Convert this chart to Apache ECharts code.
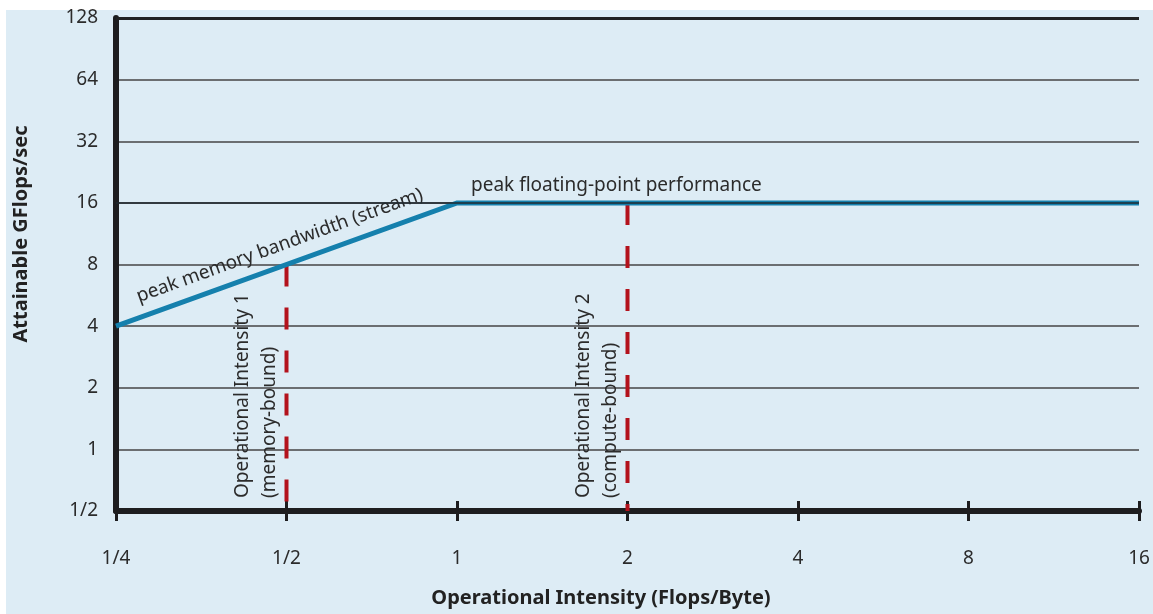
<!DOCTYPE html>
<html>
<head>
<meta charset="utf-8">
<script src="https://cdn.jsdelivr.net/npm/echarts@6/dist/echarts.min.js"></script>
<style>
  html, body { margin: 0; padding: 0; background: #ffffff; }
  #chart { width: 1153px; height: 614px; }
</style>
</head>
<body>
<div id="chart"></div>
<script>
// Roofline model: attainable GFlops/sec versus operational intensity (log2 axes)
const xTickLabels = ['1/4', '1/2', '1', '2', '4', '8', '16'];
const yTickLabels = ['1/2', '1', '2', '4', '8', '16', '32', '64', '128'];

// roof: memory-bandwidth slope up to the ridge, then the compute ceiling
const roofIntensity = [0.25, 1, 16];
const roofGflops = [4, 16, 16];

// two kernels and the attainable performance at their intensity
const kernelIntensity = [0.5, 2];
const kernelGflops = [8, 16];
const kernelNames = ['Operational Intensity 1\n(memory-bound)', 'Operational Intensity 2\n(compute-bound)'];

const X_MIN = 0.25, X_MAX = 16, Y_MIN = 0.5, Y_MAX = 128;

const FONT = '"Noto Sans", "Open Sans", "DejaVu Sans", sans-serif';
const INK = '#2b2b2b';
const AXIS = '#1d1d1f';
const ROOF = '#1580ad';
const KERNEL = '#b3121c';

const chart = echarts.init(document.getElementById('chart'), null, { renderer: 'canvas' });

const idx = v => Math.round(Math.log2(v));

const roofData = roofIntensity.map((x, i) => [x, roofGflops[i]]);

const kernelSeries = kernelIntensity.map((x, i) => ({
  type: 'line',
  name: 'kernel' + (i + 1),
  data: [[x, kernelGflops[i]], [x, Y_MIN]],
  symbol: 'none',
  silent: true,
  z: 3,
  lineStyle: { color: KERNEL, width: 4, type: [22, 21], cap: 'butt' }
}));

const option = {
  backgroundColor: 'transparent',
  animation: false,
  grid: { left: 116, right: 14, top: 18, bottom: 103 },
  xAxis: [
    {
      type: 'log', logBase: 2, min: X_MIN, max: X_MAX, interval: 1,
      position: 'bottom',
      axisLine: { show: true, lineStyle: { color: AXIS, width: 6 } },
      axisTick: { show: true, length: 10, lineStyle: { color: AXIS, width: 3 } },
      axisLabel: {
        margin: 38, fontSize: 19, color: INK, fontFamily: FONT,
        formatter: v => xTickLabels[idx(v) + 2]
      },
      splitLine: { show: false },
      minorTick: { show: false }
    },
    {
      // upper half of the tick marks, drawn inward
      type: 'log', logBase: 2, min: X_MIN, max: X_MAX, interval: 1,
      position: 'bottom',
      axisLine: { show: false },
      axisTick: { show: true, inside: true, length: 10, lineStyle: { color: AXIS, width: 3 } },
      axisLabel: { show: false },
      splitLine: { show: false }
    }
  ],
  yAxis: {
    type: 'log', logBase: 2, min: Y_MIN, max: Y_MAX, interval: 1,
    axisLine: { show: true, lineStyle: { color: AXIS, width: 6 } },
    axisTick: { show: false },
    axisLabel: {
      margin: 18, fontSize: 19, color: INK, fontFamily: FONT,
      formatter: v => yTickLabels[idx(v) + 1]
    },
    splitLine: { show: true, lineStyle: { color: '#444444', width: 1.5 } }
  },
  series: [
    {
      type: 'line',
      name: 'roof',
      data: roofData,
      symbol: 'none',
      silent: true,
      z: 4,
      lineStyle: { color: ROOF, width: 5, cap: 'butt', join: 'miter' },
      markLine: {
        silent: true,
        symbol: 'none',
        label: { show: false },
        data: [
          { yAxis: 16, lineStyle: { color: '#1f2a30', width: 1.5, type: 'solid' } },
          { yAxis: Y_MAX, lineStyle: { color: '#222222', width: 3, type: 'solid' } }
        ]
      }
    },
    ...kernelSeries
  ]
};

chart.setOption(option);

// annotations placed from data coordinates
const toPx = (x, y) => chart.convertToPixel({ gridIndex: 0 }, [x, y]);
const p0 = toPx(roofIntensity[0], roofGflops[0]);
const p1 = toPx(roofIntensity[1], roofGflops[1]);
const slope = Math.atan2(p0[1] - p1[1], p1[0] - p0[0]);
const bwAnchor = toPx(kernelIntensity[0], kernelGflops[0]);
const off = 20;

const texts = [
  {
    type: 'rect', z: -10, silent: true,
    shape: { x: 6, y: 10, width: 1147, height: 604 },
    style: { fill: '#ddecf5' }
  },
  {
    type: 'text', silent: true,
    x: bwAnchor[0] - Math.sin(slope) * off,
    y: bwAnchor[1] - Math.cos(slope) * off,
    rotation: slope,
    style: {
      text: 'peak memory bandwidth (stream)', fill: INK,
      font: '19px ' + FONT, textAlign: 'center', textVerticalAlign: 'middle', verticalAlign: 'middle'
    }
  },
  {
    type: 'text', silent: true,
    x: p1[0] + 14, y: p1[1] - 17,
    style: {
      text: 'peak floating-point performance', fill: INK,
      font: '19px ' + FONT, textAlign: 'left', textVerticalAlign: 'middle', verticalAlign: 'middle'
    }
  },
  {
    type: 'text', silent: true,
    x: 21, y: 234, rotation: Math.PI / 2,
    style: {
      text: 'Attainable GFlops/sec', fill: '#222222',
      font: 'bold 20px ' + FONT, textAlign: 'center', textVerticalAlign: 'middle', verticalAlign: 'middle'
    }
  },
  {
    type: 'text', silent: true,
    x: 601, y: 598,
    style: {
      text: 'Operational Intensity (Flops/Byte)', fill: '#222222',
      font: 'bold 20px ' + FONT, textAlign: 'center', textVerticalAlign: 'middle', verticalAlign: 'middle'
    }
  }
];

kernelIntensity.forEach((x, i) => {
  const p = toPx(x, Y_MIN);
  texts.push({
    type: 'text', silent: true,
    x: p[0] - 57, y: p[1] - 13, rotation: Math.PI / 2,
    style: {
      text: kernelNames[i], fill: INK, lineHeight: 27,
      font: '19px ' + FONT, textAlign: 'left', textVerticalAlign: 'top', verticalAlign: 'top'
    }
  });
});

chart.setOption({ graphic: texts });
</script>
</body>
</html>
